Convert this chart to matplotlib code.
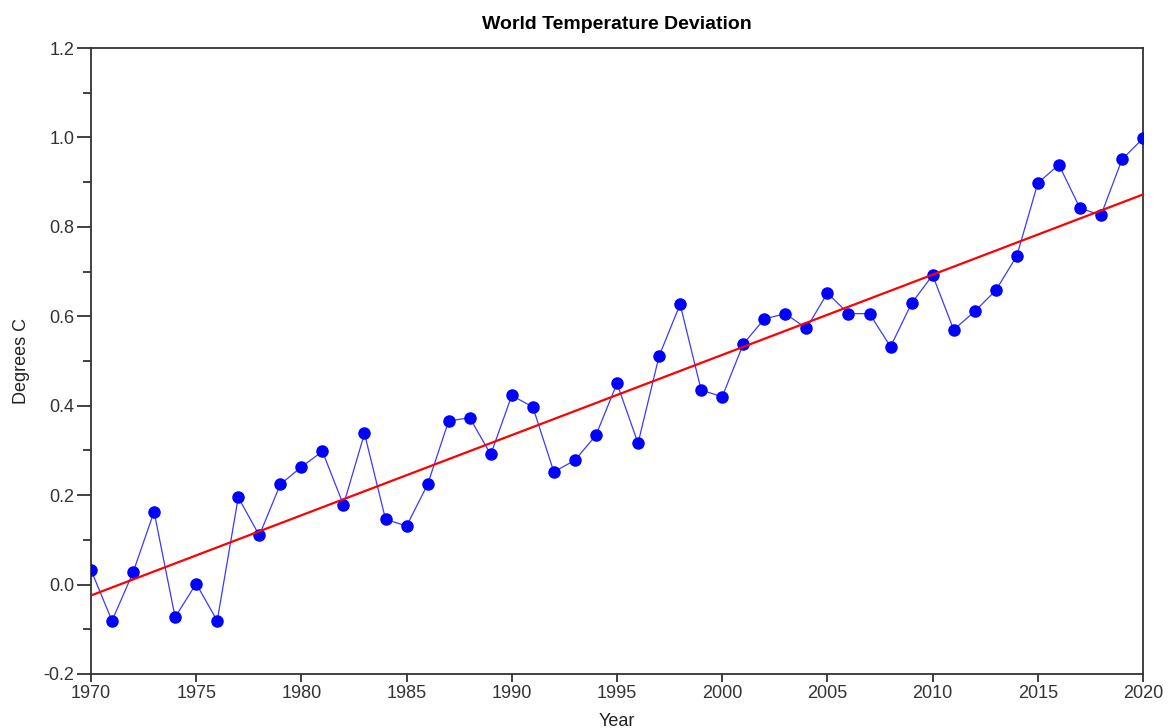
import matplotlib
matplotlib.use('Agg')
import matplotlib.pyplot as plt
from matplotlib.ticker import MultipleLocator, FuncFormatter
import numpy as np

plt.rcParams['font.family'] = ['Liberation Sans', 'DejaVu Sans']

# yearly deviation
years = list(range(1970, 2021))
temps = [0.033, -0.081, 0.027, 0.163, -0.073, 0.002, -0.081, 0.195, 0.110, 0.224,
         0.263, 0.298, 0.178, 0.338, 0.146, 0.131, 0.224, 0.366, 0.373, 0.291,
         0.423, 0.397, 0.252, 0.278, 0.334, 0.450, 0.316, 0.511, 0.627, 0.435,
         0.420, 0.538, 0.594, 0.606, 0.573, 0.652, 0.606, 0.606, 0.532, 0.629,
         0.692, 0.570, 0.611, 0.658, 0.735, 0.898, 0.939, 0.842, 0.826, 0.951,
         0.998]

x = np.array(years)
y = np.array(temps)
slope, icpt = np.polyfit(x, y, 1)

fig = plt.figure(figsize=(11.69, 7.28), dpi=100)
ax = fig.add_axes([0.0778, 0.0742, 0.9, 0.8598])

ax.plot(x, y, '-', color='#3a3aff', lw=0.9, zorder=2)
ax.plot(x, y, 'o', color='#0000ff', ms=8, zorder=3)
ax.plot(x, slope * x + icpt, color='red', lw=1.6, zorder=4)

ax.set_xlim(1970, 2020)
ax.set_ylim(-0.2, 1.2)
ax.xaxis.set_major_locator(MultipleLocator(5))
ax.yaxis.set_major_locator(MultipleLocator(0.2))
ax.yaxis.set_minor_locator(MultipleLocator(0.1))
ax.yaxis.set_major_formatter(FuncFormatter(lambda v, p: '%.1f' % v))

for s in ax.spines.values():
    s.set_color('#333333')
    s.set_linewidth(1.3)
ax.tick_params(axis='both', which='major', direction='out', length=10, width=1.3,
               color='#333333', labelsize=13, labelcolor='#333333', pad=2)
ax.tick_params(axis='y', which='minor', direction='out', length=6, width=1.3, color='#333333')
ax.tick_params(axis='x', which='major', length=6)

ax.set_title('World Temperature Deviation', fontsize=14, fontweight='bold', pad=14)
ax.set_xlabel('Year', fontsize=13, labelpad=8, color='#222222')
ax.set_ylabel('Degrees C', fontsize=13, labelpad=10, color='#222222')

fig.savefig('out.png', dpi=100)
